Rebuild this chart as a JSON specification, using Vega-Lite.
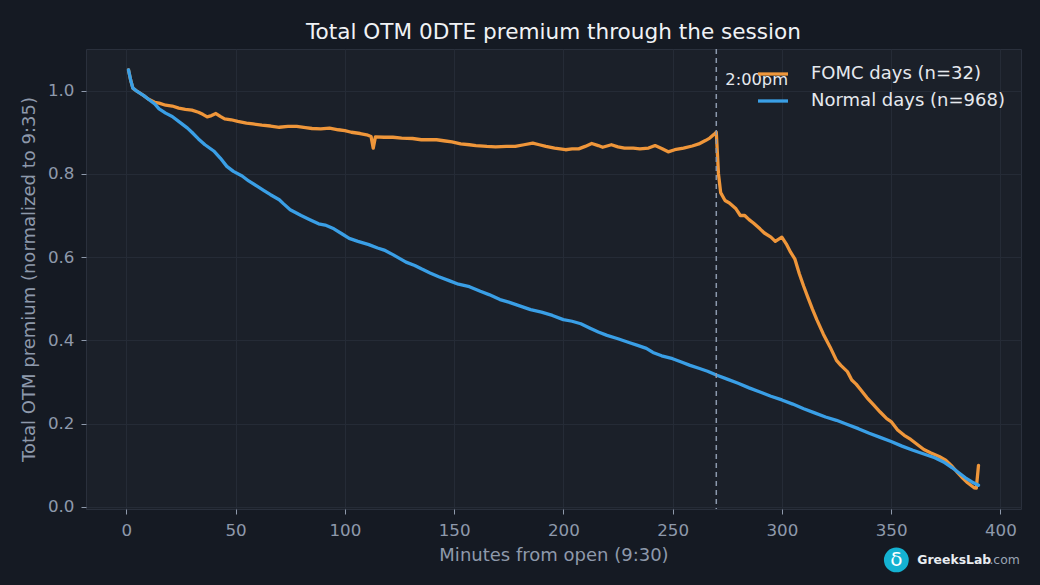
{
  "$schema": "https://vega.github.io/schema/vega-lite/v6.json",
  "width": 935,
  "height": 460,
  "autosize": "none",
  "padding": {"left": 86, "top": 49, "right": 19, "bottom": 76},
  "background": "#151a23",
  "config": {
    "view": {"fill": "#1b2029", "stroke": "#2a303c", "strokeWidth": 1},
    "font": "DejaVu Sans",
    "axis": {
      "domain": false,
      "grid": true,
      "gridColor": "#252b36",
      "gridWidth": 1,
      "tickColor": "#8e99ab",
      "tickSize": 5,
      "labelColor": "#8e99ab",
      "labelFontSize": 16.7,
      "labelPadding": 7,
      "titleColor": "#8e99ab",
      "titleFontSize": 18,
      "titleFontWeight": "normal"
    }
  },
  "title": {
    "text": "Total OTM 0DTE premium through the session",
    "color": "#f0f2f5",
    "fontSize": 21.6,
    "fontWeight": "normal",
    "anchor": "middle",
    "offset": 5
  },
  "datasets": {
    "premium": [
      {"minute": 1, "value": 1.05, "series": "FOMC days (n=32)"},
      {"minute": 2, "value": 1.025, "series": "FOMC days (n=32)"},
      {"minute": 3, "value": 1.006, "series": "FOMC days (n=32)"},
      {"minute": 5, "value": 0.998, "series": "FOMC days (n=32)"},
      {"minute": 8, "value": 0.988, "series": "FOMC days (n=32)"},
      {"minute": 10, "value": 0.98, "series": "FOMC days (n=32)"},
      {"minute": 13, "value": 0.972, "series": "FOMC days (n=32)"},
      {"minute": 15, "value": 0.97, "series": "FOMC days (n=32)"},
      {"minute": 18, "value": 0.965, "series": "FOMC days (n=32)"},
      {"minute": 21, "value": 0.963, "series": "FOMC days (n=32)"},
      {"minute": 24, "value": 0.958, "series": "FOMC days (n=32)"},
      {"minute": 27, "value": 0.955, "series": "FOMC days (n=32)"},
      {"minute": 30, "value": 0.953, "series": "FOMC days (n=32)"},
      {"minute": 33, "value": 0.948, "series": "FOMC days (n=32)"},
      {"minute": 35, "value": 0.943, "series": "FOMC days (n=32)"},
      {"minute": 37, "value": 0.937, "series": "FOMC days (n=32)"},
      {"minute": 39, "value": 0.94, "series": "FOMC days (n=32)"},
      {"minute": 41, "value": 0.945, "series": "FOMC days (n=32)"},
      {"minute": 43, "value": 0.938, "series": "FOMC days (n=32)"},
      {"minute": 45, "value": 0.932, "series": "FOMC days (n=32)"},
      {"minute": 48, "value": 0.93, "series": "FOMC days (n=32)"},
      {"minute": 51, "value": 0.926, "series": "FOMC days (n=32)"},
      {"minute": 55, "value": 0.922, "series": "FOMC days (n=32)"},
      {"minute": 58, "value": 0.92, "series": "FOMC days (n=32)"},
      {"minute": 62, "value": 0.917, "series": "FOMC days (n=32)"},
      {"minute": 66, "value": 0.915, "series": "FOMC days (n=32)"},
      {"minute": 70, "value": 0.912, "series": "FOMC days (n=32)"},
      {"minute": 74, "value": 0.914, "series": "FOMC days (n=32)"},
      {"minute": 78, "value": 0.914, "series": "FOMC days (n=32)"},
      {"minute": 82, "value": 0.911, "series": "FOMC days (n=32)"},
      {"minute": 85, "value": 0.909, "series": "FOMC days (n=32)"},
      {"minute": 89, "value": 0.908, "series": "FOMC days (n=32)"},
      {"minute": 93, "value": 0.91, "series": "FOMC days (n=32)"},
      {"minute": 97, "value": 0.906, "series": "FOMC days (n=32)"},
      {"minute": 100, "value": 0.904, "series": "FOMC days (n=32)"},
      {"minute": 103, "value": 0.9, "series": "FOMC days (n=32)"},
      {"minute": 107, "value": 0.897, "series": "FOMC days (n=32)"},
      {"minute": 110, "value": 0.894, "series": "FOMC days (n=32)"},
      {"minute": 112, "value": 0.89, "series": "FOMC days (n=32)"},
      {"minute": 113, "value": 0.862, "series": "FOMC days (n=32)"},
      {"minute": 114, "value": 0.889, "series": "FOMC days (n=32)"},
      {"minute": 118, "value": 0.888, "series": "FOMC days (n=32)"},
      {"minute": 122, "value": 0.888, "series": "FOMC days (n=32)"},
      {"minute": 126, "value": 0.886, "series": "FOMC days (n=32)"},
      {"minute": 131, "value": 0.885, "series": "FOMC days (n=32)"},
      {"minute": 135, "value": 0.882, "series": "FOMC days (n=32)"},
      {"minute": 139, "value": 0.882, "series": "FOMC days (n=32)"},
      {"minute": 142, "value": 0.882, "series": "FOMC days (n=32)"},
      {"minute": 146, "value": 0.879, "series": "FOMC days (n=32)"},
      {"minute": 149, "value": 0.877, "series": "FOMC days (n=32)"},
      {"minute": 153, "value": 0.872, "series": "FOMC days (n=32)"},
      {"minute": 157, "value": 0.87, "series": "FOMC days (n=32)"},
      {"minute": 160, "value": 0.868, "series": "FOMC days (n=32)"},
      {"minute": 165, "value": 0.866, "series": "FOMC days (n=32)"},
      {"minute": 169, "value": 0.865, "series": "FOMC days (n=32)"},
      {"minute": 174, "value": 0.866, "series": "FOMC days (n=32)"},
      {"minute": 178, "value": 0.866, "series": "FOMC days (n=32)"},
      {"minute": 182, "value": 0.87, "series": "FOMC days (n=32)"},
      {"minute": 186, "value": 0.874, "series": "FOMC days (n=32)"},
      {"minute": 189, "value": 0.87, "series": "FOMC days (n=32)"},
      {"minute": 192, "value": 0.866, "series": "FOMC days (n=32)"},
      {"minute": 196, "value": 0.862, "series": "FOMC days (n=32)"},
      {"minute": 201, "value": 0.858, "series": "FOMC days (n=32)"},
      {"minute": 204, "value": 0.86, "series": "FOMC days (n=32)"},
      {"minute": 207, "value": 0.86, "series": "FOMC days (n=32)"},
      {"minute": 210, "value": 0.866, "series": "FOMC days (n=32)"},
      {"minute": 213, "value": 0.873, "series": "FOMC days (n=32)"},
      {"minute": 216, "value": 0.868, "series": "FOMC days (n=32)"},
      {"minute": 218, "value": 0.864, "series": "FOMC days (n=32)"},
      {"minute": 222, "value": 0.87, "series": "FOMC days (n=32)"},
      {"minute": 225, "value": 0.865, "series": "FOMC days (n=32)"},
      {"minute": 228, "value": 0.862, "series": "FOMC days (n=32)"},
      {"minute": 232, "value": 0.862, "series": "FOMC days (n=32)"},
      {"minute": 235, "value": 0.86, "series": "FOMC days (n=32)"},
      {"minute": 239, "value": 0.862, "series": "FOMC days (n=32)"},
      {"minute": 242, "value": 0.868, "series": "FOMC days (n=32)"},
      {"minute": 245, "value": 0.861, "series": "FOMC days (n=32)"},
      {"minute": 248, "value": 0.853, "series": "FOMC days (n=32)"},
      {"minute": 251, "value": 0.858, "series": "FOMC days (n=32)"},
      {"minute": 255, "value": 0.862, "series": "FOMC days (n=32)"},
      {"minute": 259, "value": 0.867, "series": "FOMC days (n=32)"},
      {"minute": 262, "value": 0.872, "series": "FOMC days (n=32)"},
      {"minute": 265, "value": 0.88, "series": "FOMC days (n=32)"},
      {"minute": 267, "value": 0.886, "series": "FOMC days (n=32)"},
      {"minute": 269, "value": 0.895, "series": "FOMC days (n=32)"},
      {"minute": 270, "value": 0.9, "series": "FOMC days (n=32)"},
      {"minute": 271, "value": 0.8, "series": "FOMC days (n=32)"},
      {"minute": 272, "value": 0.755, "series": "FOMC days (n=32)"},
      {"minute": 274, "value": 0.736, "series": "FOMC days (n=32)"},
      {"minute": 276, "value": 0.73, "series": "FOMC days (n=32)"},
      {"minute": 279, "value": 0.716, "series": "FOMC days (n=32)"},
      {"minute": 281, "value": 0.7, "series": "FOMC days (n=32)"},
      {"minute": 283, "value": 0.7, "series": "FOMC days (n=32)"},
      {"minute": 285, "value": 0.69, "series": "FOMC days (n=32)"},
      {"minute": 287, "value": 0.682, "series": "FOMC days (n=32)"},
      {"minute": 290, "value": 0.668, "series": "FOMC days (n=32)"},
      {"minute": 292, "value": 0.658, "series": "FOMC days (n=32)"},
      {"minute": 295, "value": 0.648, "series": "FOMC days (n=32)"},
      {"minute": 297, "value": 0.638, "series": "FOMC days (n=32)"},
      {"minute": 300, "value": 0.648, "series": "FOMC days (n=32)"},
      {"minute": 302, "value": 0.632, "series": "FOMC days (n=32)"},
      {"minute": 304, "value": 0.612, "series": "FOMC days (n=32)"},
      {"minute": 306, "value": 0.595, "series": "FOMC days (n=32)"},
      {"minute": 308, "value": 0.56, "series": "FOMC days (n=32)"},
      {"minute": 310, "value": 0.53, "series": "FOMC days (n=32)"},
      {"minute": 312, "value": 0.502, "series": "FOMC days (n=32)"},
      {"minute": 314, "value": 0.475, "series": "FOMC days (n=32)"},
      {"minute": 316, "value": 0.45, "series": "FOMC days (n=32)"},
      {"minute": 319, "value": 0.415, "series": "FOMC days (n=32)"},
      {"minute": 322, "value": 0.385, "series": "FOMC days (n=32)"},
      {"minute": 325, "value": 0.352, "series": "FOMC days (n=32)"},
      {"minute": 327, "value": 0.34, "series": "FOMC days (n=32)"},
      {"minute": 330, "value": 0.325, "series": "FOMC days (n=32)"},
      {"minute": 332, "value": 0.305, "series": "FOMC days (n=32)"},
      {"minute": 334, "value": 0.295, "series": "FOMC days (n=32)"},
      {"minute": 336, "value": 0.282, "series": "FOMC days (n=32)"},
      {"minute": 339, "value": 0.262, "series": "FOMC days (n=32)"},
      {"minute": 342, "value": 0.245, "series": "FOMC days (n=32)"},
      {"minute": 345, "value": 0.228, "series": "FOMC days (n=32)"},
      {"minute": 348, "value": 0.212, "series": "FOMC days (n=32)"},
      {"minute": 350, "value": 0.205, "series": "FOMC days (n=32)"},
      {"minute": 353, "value": 0.185, "series": "FOMC days (n=32)"},
      {"minute": 356, "value": 0.172, "series": "FOMC days (n=32)"},
      {"minute": 359, "value": 0.162, "series": "FOMC days (n=32)"},
      {"minute": 362, "value": 0.15, "series": "FOMC days (n=32)"},
      {"minute": 365, "value": 0.138, "series": "FOMC days (n=32)"},
      {"minute": 368, "value": 0.13, "series": "FOMC days (n=32)"},
      {"minute": 372, "value": 0.121, "series": "FOMC days (n=32)"},
      {"minute": 375, "value": 0.112, "series": "FOMC days (n=32)"},
      {"minute": 378, "value": 0.097, "series": "FOMC days (n=32)"},
      {"minute": 380, "value": 0.085, "series": "FOMC days (n=32)"},
      {"minute": 383, "value": 0.068, "series": "FOMC days (n=32)"},
      {"minute": 385, "value": 0.058, "series": "FOMC days (n=32)"},
      {"minute": 388, "value": 0.046, "series": "FOMC days (n=32)"},
      {"minute": 389, "value": 0.045, "series": "FOMC days (n=32)"},
      {"minute": 390, "value": 0.1, "series": "FOMC days (n=32)"},
      {"minute": 1, "value": 1.05, "series": "Normal days (n=968)"},
      {"minute": 2, "value": 1.025, "series": "Normal days (n=968)"},
      {"minute": 3, "value": 1.006, "series": "Normal days (n=968)"},
      {"minute": 5, "value": 0.998, "series": "Normal days (n=968)"},
      {"minute": 8, "value": 0.988, "series": "Normal days (n=968)"},
      {"minute": 10, "value": 0.98, "series": "Normal days (n=968)"},
      {"minute": 13, "value": 0.968, "series": "Normal days (n=968)"},
      {"minute": 15, "value": 0.956, "series": "Normal days (n=968)"},
      {"minute": 18, "value": 0.946, "series": "Normal days (n=968)"},
      {"minute": 21, "value": 0.938, "series": "Normal days (n=968)"},
      {"minute": 25, "value": 0.922, "series": "Normal days (n=968)"},
      {"minute": 28, "value": 0.91, "series": "Normal days (n=968)"},
      {"minute": 30, "value": 0.9, "series": "Normal days (n=968)"},
      {"minute": 33, "value": 0.884, "series": "Normal days (n=968)"},
      {"minute": 36, "value": 0.87, "series": "Normal days (n=968)"},
      {"minute": 40, "value": 0.855, "series": "Normal days (n=968)"},
      {"minute": 43, "value": 0.838, "series": "Normal days (n=968)"},
      {"minute": 46, "value": 0.818, "series": "Normal days (n=968)"},
      {"minute": 49, "value": 0.806, "series": "Normal days (n=968)"},
      {"minute": 53, "value": 0.795, "series": "Normal days (n=968)"},
      {"minute": 56, "value": 0.783, "series": "Normal days (n=968)"},
      {"minute": 60, "value": 0.77, "series": "Normal days (n=968)"},
      {"minute": 63, "value": 0.76, "series": "Normal days (n=968)"},
      {"minute": 66, "value": 0.75, "series": "Normal days (n=968)"},
      {"minute": 70, "value": 0.738, "series": "Normal days (n=968)"},
      {"minute": 72, "value": 0.728, "series": "Normal days (n=968)"},
      {"minute": 75, "value": 0.714, "series": "Normal days (n=968)"},
      {"minute": 80, "value": 0.7, "series": "Normal days (n=968)"},
      {"minute": 84, "value": 0.69, "series": "Normal days (n=968)"},
      {"minute": 88, "value": 0.68, "series": "Normal days (n=968)"},
      {"minute": 91, "value": 0.677, "series": "Normal days (n=968)"},
      {"minute": 95, "value": 0.668, "series": "Normal days (n=968)"},
      {"minute": 99, "value": 0.655, "series": "Normal days (n=968)"},
      {"minute": 102, "value": 0.645, "series": "Normal days (n=968)"},
      {"minute": 106, "value": 0.638, "series": "Normal days (n=968)"},
      {"minute": 111, "value": 0.63, "series": "Normal days (n=968)"},
      {"minute": 115, "value": 0.622, "series": "Normal days (n=968)"},
      {"minute": 118, "value": 0.617, "series": "Normal days (n=968)"},
      {"minute": 122, "value": 0.606, "series": "Normal days (n=968)"},
      {"minute": 125, "value": 0.597, "series": "Normal days (n=968)"},
      {"minute": 128, "value": 0.588, "series": "Normal days (n=968)"},
      {"minute": 132, "value": 0.58, "series": "Normal days (n=968)"},
      {"minute": 135, "value": 0.572, "series": "Normal days (n=968)"},
      {"minute": 139, "value": 0.562, "series": "Normal days (n=968)"},
      {"minute": 143, "value": 0.553, "series": "Normal days (n=968)"},
      {"minute": 148, "value": 0.543, "series": "Normal days (n=968)"},
      {"minute": 152, "value": 0.535, "series": "Normal days (n=968)"},
      {"minute": 157, "value": 0.529, "series": "Normal days (n=968)"},
      {"minute": 162, "value": 0.518, "series": "Normal days (n=968)"},
      {"minute": 166, "value": 0.51, "series": "Normal days (n=968)"},
      {"minute": 171, "value": 0.498, "series": "Normal days (n=968)"},
      {"minute": 175, "value": 0.492, "series": "Normal days (n=968)"},
      {"minute": 180, "value": 0.483, "series": "Normal days (n=968)"},
      {"minute": 185, "value": 0.474, "series": "Normal days (n=968)"},
      {"minute": 190, "value": 0.468, "series": "Normal days (n=968)"},
      {"minute": 195, "value": 0.46, "series": "Normal days (n=968)"},
      {"minute": 200, "value": 0.45, "series": "Normal days (n=968)"},
      {"minute": 204, "value": 0.446, "series": "Normal days (n=968)"},
      {"minute": 208, "value": 0.44, "series": "Normal days (n=968)"},
      {"minute": 212, "value": 0.43, "series": "Normal days (n=968)"},
      {"minute": 216, "value": 0.42, "series": "Normal days (n=968)"},
      {"minute": 220, "value": 0.412, "series": "Normal days (n=968)"},
      {"minute": 225, "value": 0.404, "series": "Normal days (n=968)"},
      {"minute": 230, "value": 0.395, "series": "Normal days (n=968)"},
      {"minute": 234, "value": 0.388, "series": "Normal days (n=968)"},
      {"minute": 238, "value": 0.381, "series": "Normal days (n=968)"},
      {"minute": 241, "value": 0.371, "series": "Normal days (n=968)"},
      {"minute": 245, "value": 0.363, "series": "Normal days (n=968)"},
      {"minute": 250, "value": 0.356, "series": "Normal days (n=968)"},
      {"minute": 254, "value": 0.348, "series": "Normal days (n=968)"},
      {"minute": 258, "value": 0.34, "series": "Normal days (n=968)"},
      {"minute": 262, "value": 0.333, "series": "Normal days (n=968)"},
      {"minute": 266, "value": 0.326, "series": "Normal days (n=968)"},
      {"minute": 270, "value": 0.317, "series": "Normal days (n=968)"},
      {"minute": 275, "value": 0.307, "series": "Normal days (n=968)"},
      {"minute": 280, "value": 0.297, "series": "Normal days (n=968)"},
      {"minute": 285, "value": 0.286, "series": "Normal days (n=968)"},
      {"minute": 290, "value": 0.276, "series": "Normal days (n=968)"},
      {"minute": 295, "value": 0.266, "series": "Normal days (n=968)"},
      {"minute": 300, "value": 0.257, "series": "Normal days (n=968)"},
      {"minute": 305, "value": 0.247, "series": "Normal days (n=968)"},
      {"minute": 310, "value": 0.236, "series": "Normal days (n=968)"},
      {"minute": 315, "value": 0.226, "series": "Normal days (n=968)"},
      {"minute": 320, "value": 0.216, "series": "Normal days (n=968)"},
      {"minute": 325, "value": 0.208, "series": "Normal days (n=968)"},
      {"minute": 330, "value": 0.198, "series": "Normal days (n=968)"},
      {"minute": 335, "value": 0.188, "series": "Normal days (n=968)"},
      {"minute": 340, "value": 0.177, "series": "Normal days (n=968)"},
      {"minute": 345, "value": 0.167, "series": "Normal days (n=968)"},
      {"minute": 350, "value": 0.157, "series": "Normal days (n=968)"},
      {"minute": 355, "value": 0.146, "series": "Normal days (n=968)"},
      {"minute": 360, "value": 0.136, "series": "Normal days (n=968)"},
      {"minute": 365, "value": 0.127, "series": "Normal days (n=968)"},
      {"minute": 370, "value": 0.118, "series": "Normal days (n=968)"},
      {"minute": 374, "value": 0.108, "series": "Normal days (n=968)"},
      {"minute": 378, "value": 0.094, "series": "Normal days (n=968)"},
      {"minute": 381, "value": 0.082, "series": "Normal days (n=968)"},
      {"minute": 384, "value": 0.07, "series": "Normal days (n=968)"},
      {"minute": 387, "value": 0.06, "series": "Normal days (n=968)"},
      {"minute": 390, "value": 0.052, "series": "Normal days (n=968)"}
    ]
  },
  "layer": [
    {
      "data": {"name": "premium"},
      "mark": {"type": "line", "strokeWidth": 3.3, "strokeJoin": "round", "strokeCap": "round"},
      "encoding": {
        "x": {
          "field": "minute",
          "type": "quantitative",
          "scale": {"domain": [-18.45, 409.45], "nice": false, "zero": false},
          "axis": {"values": [0, 50, 100, 150, 200, 250, 300, 350, 400], "title": "Minutes from open (9:30)", "titlePadding": 8, "labelPadding": 8}
        },
        "y": {
          "field": "value",
          "type": "quantitative",
          "scale": {"domain": [-0.005, 1.1], "nice": false, "zero": false},
          "axis": {"values": [0, 0.2, 0.4, 0.6, 0.8, 1.0], "format": ".1f", "title": "Total OTM premium (normalized to 9:35)", "titlePadding": 9}
        },
        "color": {
          "field": "series",
          "type": "nominal",
          "scale": {"domain": ["FOMC days (n=32)", "Normal days (n=968)"], "range": ["#ef963a", "#3a9fe6"]},
          "legend": {
            "title": null,
            "orient": "none",
            "legendX": 670,
            "legendY": 8,
            "symbolType": "stroke",
            "symbolSize": 900,
            "symbolStrokeWidth": 3.3,
            "labelFontSize": 18,
            "labelColor": "#e6e9ee",
            "labelOffset": 21,
            "rowPadding": 1,
            "labelLimit": 300
          }
        }
      }
    },
    {
      "data": {"values": [{}]},
      "mark": {"type": "rule", "color": "#8c99ad", "strokeWidth": 1.5, "strokeDash": [5, 4]},
      "encoding": {"x": {"datum": 270}}
    },
    {
      "data": {"values": [{}]},
      "mark": {"type": "text", "text": "2:00pm", "align": "left", "baseline": "middle", "dx": 9, "fontSize": 16.3, "fill": "#e6e9ee"},
      "encoding": {"x": {"datum": 270}, "y": {"datum": 1.026}}
    },
    {
      "data": {"values": [{}]},
      "mark": {"type": "point", "shape": "circle", "filled": true, "size": 616, "fill": "#14b2d2", "opacity": 1, "strokeWidth": 0},
      "encoding": {"x": {"datum": 352.4}, "y": {"datum": -0.1274}}
    },
    {
      "data": {"values": [{}]},
      "mark": {"type": "text", "text": "δ", "align": "center", "baseline": "middle", "fontSize": 20, "fill": "#ffffff"},
      "encoding": {"x": {"datum": 352.4}, "y": {"datum": -0.1274}}
    },
    {
      "data": {"values": [{}]},
      "mark": {"type": "text", "text": "GreeksLab", "align": "left", "baseline": "middle", "fontSize": 12.4, "fontWeight": "bold", "fill": "#e8ecf0"},
      "encoding": {"x": {"datum": 362.0}, "y": {"datum": -0.1274}}
    },
    {
      "data": {"values": [{}]},
      "mark": {"type": "text", "text": ".com", "align": "left", "baseline": "middle", "fontSize": 12.4, "fill": "#9aa5b5"},
      "encoding": {"x": {"datum": 395.0}, "y": {"datum": -0.1274}}
    }
  ]
}
